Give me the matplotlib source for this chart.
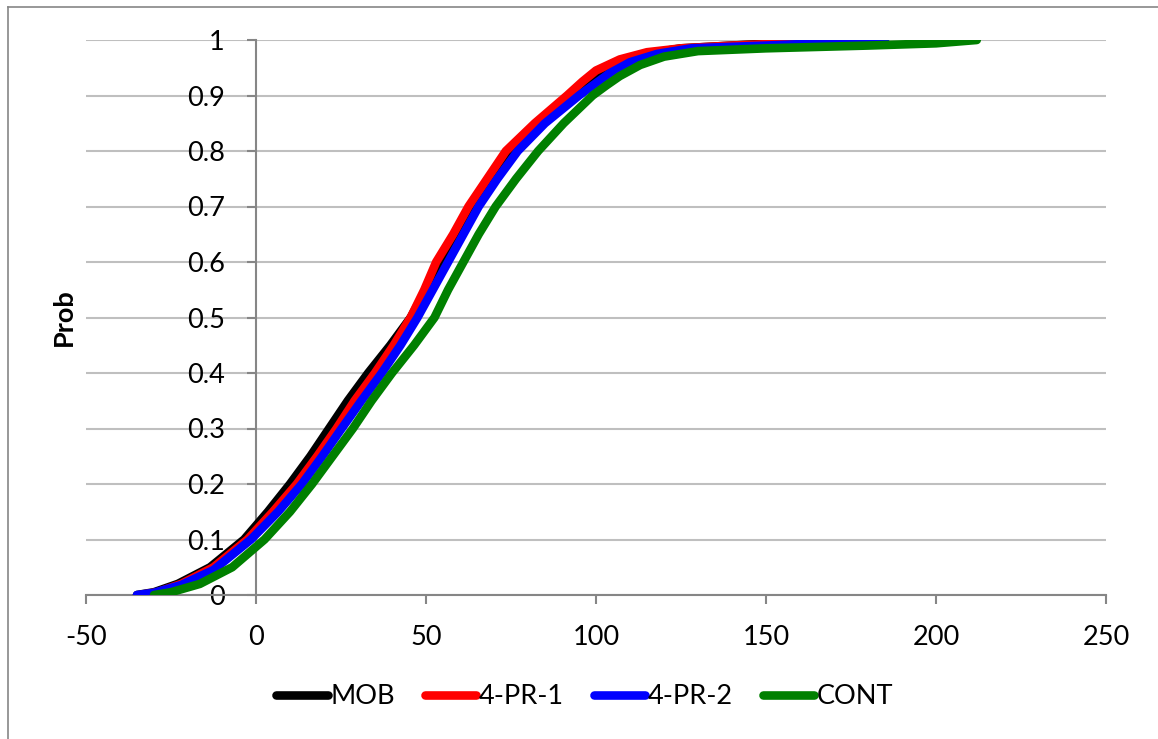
import numpy as np
import matplotlib.pyplot as plt
from matplotlib.lines import Line2D

plt.rcParams['font.family'] = ['Lato', 'DejaVu Sans']
plt.rcParams['axes.unicode_minus'] = False

# cumulative probability curves, (x, prob) pairs read along each series
mob_x = [-35, -30, -23, -13.5, -3.5, 3.5, 10, 16, 21.5, 27, 33, 39.5, 45.5, 50, 54, 59, 64, 69.5, 75.5, 83.5, 93,
         98, 103, 108, 115, 125, 140, 155, 165]
mob_p = [0, 0.005, 0.02, 0.05, 0.1, 0.15, 0.2, 0.25, 0.3, 0.35, 0.4, 0.45, 0.5, 0.55, 0.6, 0.65, 0.7, 0.75, 0.8,
         0.85, 0.9, 0.925, 0.945, 0.96, 0.975, 0.985, 0.99, 0.995, 1.0]

pr1_x = [-34, -29, -22, -12.5, -2.5, 5, 12, 18, 23.7, 29, 35, 40.5, 45.5, 49.5, 53, 58, 62.5, 68, 73.5, 82, 91.5,
         96, 100, 107, 115, 125, 140, 160, 178]
pr1_p = [0, 0.005, 0.02, 0.05, 0.1, 0.15, 0.2, 0.25, 0.3, 0.35, 0.4, 0.45, 0.5, 0.55, 0.6, 0.65, 0.7, 0.75, 0.8,
         0.85, 0.9, 0.925, 0.945, 0.965, 0.978, 0.985, 0.99, 0.995, 1.0]

pr2_x = [-35, -30, -22, -12.5, -1.5, 6.5, 13.5, 19.5, 25.2, 31, 37, 42.5, 47.5, 52, 56.5, 61, 65.5, 71, 77, 85, 95,
         99.5, 104, 110, 118, 128, 150, 170, 185]
pr2_p = [0, 0.004, 0.018, 0.045, 0.1, 0.15, 0.2, 0.25, 0.3, 0.35, 0.4, 0.45, 0.5, 0.55, 0.6, 0.65, 0.7, 0.75, 0.8,
         0.85, 0.9, 0.92, 0.94, 0.96, 0.975, 0.985, 0.99, 0.995, 1.0]

cont_x = [-30, -25, -16.5, -7, 2.5, 10, 16.5, 22.5, 28.5, 34, 40, 46.5, 52.5, 56.5, 61, 65.5, 70.5, 76.5, 83, 90.5,
          99, 103, 107, 113, 120, 130, 150, 180, 200, 212]
cont_p = [0, 0.005, 0.02, 0.05, 0.1, 0.15, 0.2, 0.25, 0.3, 0.35, 0.4, 0.45, 0.5, 0.55, 0.6, 0.65, 0.7, 0.75, 0.8,
          0.85, 0.9, 0.918, 0.935, 0.955, 0.97, 0.98, 0.985, 0.99, 0.994, 1.0]

series = [('MOB', mob_x, mob_p, '#000000'),
          ('4-PR-1', pr1_x, pr1_p, '#ff0000'),
          ('4-PR-2', pr2_x, pr2_p, '#0000ff'),
          ('CONT', cont_x, cont_p, '#008000')]

xticks = [-50, 0, 50, 100, 150, 200, 250]
yticks = np.round(np.arange(0, 1.01, 0.1), 1)

fig = plt.figure(figsize=(11.58, 7.39), dpi=100, facecolor='w')
ax = fig.add_axes([86 / 1158, 1 - 595 / 739, 1020 / 1158, 555 / 739])

for name, xs, ps, c in series:
    ax.plot(xs, ps, color=c, lw=6.2, label=name, solid_capstyle='round', solid_joinstyle='round', zorder=3)

ax.set_xlim(-50, 250)
ax.set_ylim(0, 1)
ax.set_xticks(xticks)
ax.set_yticks(yticks)
ax.set_yticklabels(['{:g}'.format(v) for v in yticks])

ax.grid(axis='y', color='#bfbfbf', lw=1.5)
ax.set_axisbelow(True)
for s in ('top', 'right'):
    ax.spines[s].set_visible(False)
ax.spines['left'].set_position(('data', 0))
for s in ('left', 'bottom'):
    ax.spines[s].set_color('#868686')
    ax.spines[s].set_linewidth(1.5)
ax.tick_params(axis='both', direction='out', length=6.5, width=1.5, color='#868686', labelsize=19.5)
ax.tick_params(axis='y', pad=16)
ax.tick_params(axis='x', pad=15)

ax.set_ylabel('Prob', fontsize=19.5, fontweight='bold')
ax.yaxis.set_label_coords(-0.01, 0.5)

fig.legend(loc='center', bbox_to_anchor=(0.505, 0.057), ncol=4, frameon=False, fontsize=19.5,
           handlelength=1.9, handletextpad=0.1, columnspacing=1.1)

# outer chart border
fig.add_artist(Line2D([8 / 1158, 8 / 1158], [0, 1 - 7 / 739], transform=fig.transFigure, color='#868686', lw=1.2))
fig.add_artist(Line2D([8 / 1158, 1], [1 - 7 / 739, 1 - 7 / 739], transform=fig.transFigure, color='#868686', lw=1.2))

fig.savefig('out.png', dpi=100)
